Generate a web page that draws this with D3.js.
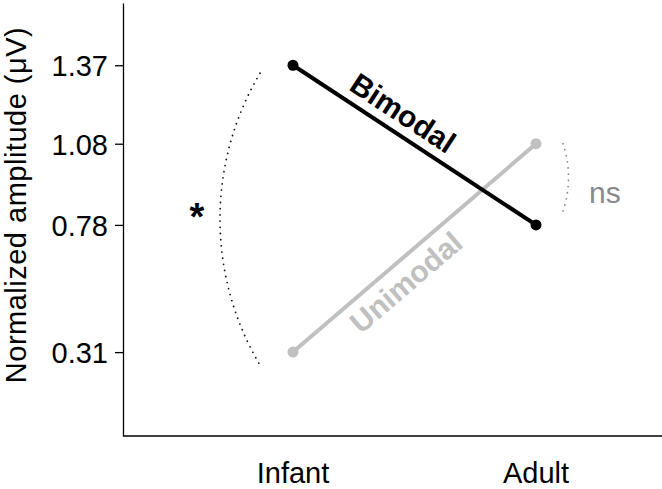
<!DOCTYPE html>
<html>
<head>
<meta charset="utf-8">
<script src="https://cdn.jsdelivr.net/npm/d3@7"></script>
<style>
  body { margin: 0; background: #fff; }
  svg { display: block; font-family: "Liberation Sans", Arial, sans-serif; }
  .axis path, .axis line { stroke: #000; stroke-width: 1.3; }
  .axis text { font-size: 29px; fill: #000; }
</style>
</head>
<body>
<div id="chart"></div>
<script>
// data
var groups = ['Infant', 'Adult'];
var bimodal = [1.37, 0.78];
var unimodal = [0.31, 1.08];
var yTicks = [0.31, 0.78, 1.08, 1.37];

var width = 662, height = 489;

var svg = d3.select('#chart').append('svg')
    .attr('width', width)
    .attr('height', height);

var x = d3.scalePoint().domain(groups).range([293, 536]);
var y = d3.scaleLinear().domain([0, 1.6]).range([436, 3]);

// axes
svg.append('g')
    .attr('class', 'axis')
    .attr('transform', 'translate(123,0)')
    .call(d3.axisLeft(y).tickValues(yTicks).tickFormat(d3.format('.2f')).tickSizeInner(8).tickSizeOuter(0).tickPadding(7))
    .call(function (g) { g.selectAll('text').attr('dy', '0.36em'); });

svg.append('line')
    .attr('x1', 123).attr('x2', width)
    .attr('y1', y(0)).attr('y2', y(0))
    .attr('stroke', '#000').attr('stroke-width', 1.3);

svg.append('g')
    .attr('class', 'axis')
    .selectAll('text')
    .data(groups)
    .enter().append('text')
    .attr('x', function (d) { return x(d); })
    .attr('y', 483)
    .attr('text-anchor', 'middle')
    .text(function (d) { return d; });

svg.append('text')
    .attr('transform', 'translate(26,205) rotate(-90)')
    .attr('text-anchor', 'middle')
    .style('font-size', '29px')
    .style('letter-spacing', '0.5px')
    .text('Normalized amplitude (\u03bcV)');

// significance arcs
function arc(xc, y1, y2, bulge, sweep) {
    var h = (y2 - y1) / 2;
    var r = (h * h + bulge * bulge) / (2 * bulge);
    return 'M' + xc + ',' + y1 + 'A' + r + ',' + r + ' 0 0 ' + sweep + ' ' + xc + ',' + y2;
}
svg.append('path')
    .attr('d', arc(x('Infant') - 33, y(bimodal[0]) + 8, y(unimodal[0]) + 13, 40, 0))
    .attr('fill', 'none')
    .attr('stroke', '#111')
    .attr('stroke-width', 1.8)
    .attr('stroke-linecap', 'round')
    .attr('stroke-dasharray', '0,6.2');
svg.append('path')
    .attr('d', arc(x('Adult') + 27, y(unimodal[1]), y(bimodal[1]) - 14, 5.5, 1))
    .attr('fill', 'none')
    .attr('stroke', '#888')
    .attr('stroke-width', 1.8)
    .attr('stroke-linecap', 'round')
    .attr('stroke-dasharray', '0,6.2');

svg.append('text')
    .attr('x', 197)
    .attr('y', 230)
    .attr('text-anchor', 'middle')
    .style('font-size', '38px')
    .style('font-weight', 'bold')
    .text('*');
svg.append('text')
    .attr('x', 589)
    .attr('y', 203)
    .style('font-size', '30px')
    .attr('fill', '#8a8a8a')
    .text('ns');

// series
var series = [
    { name: 'Unimodal', values: unimodal, color: '#c0c0c0', t: 0.41, dy: 31 },
    { name: 'Bimodal', values: bimodal, color: '#000', t: 0.406, dy: -10 }
];
var line = d3.line()
    .x(function (d, i) { return x(groups[i]); })
    .y(function (d) { return y(d); });

series.forEach(function (s) {
    svg.append('path')
        .datum(s.values)
        .attr('d', line)
        .attr('fill', 'none')
        .attr('stroke', s.color)
        .attr('stroke-width', 4);
    svg.selectAll(null)
        .data(s.values)
        .enter().append('circle')
        .attr('cx', function (d, i) { return x(groups[i]); })
        .attr('cy', function (d) { return y(d); })
        .attr('r', 5.5)
        .attr('fill', s.color);

    var x0 = x(groups[0]), y0 = y(s.values[0]), x1 = x(groups[1]), y1 = y(s.values[1]);
    var ang = Math.atan2(y1 - y0, x1 - x0) * 180 / Math.PI;
    var mx = x0 + (x1 - x0) * s.t, my = y0 + (y1 - y0) * s.t;
    svg.append('text')
        .attr('transform', 'translate(' + mx + ',' + my + ') rotate(' + ang + ')')
        .attr('text-anchor', 'middle')
        .attr('y', s.dy)
        .style('font-size', '30px')
        .style('font-weight', 'bold')
        .attr('fill', s.color)
        .text(s.name);
});
</script>
</body>
</html>
